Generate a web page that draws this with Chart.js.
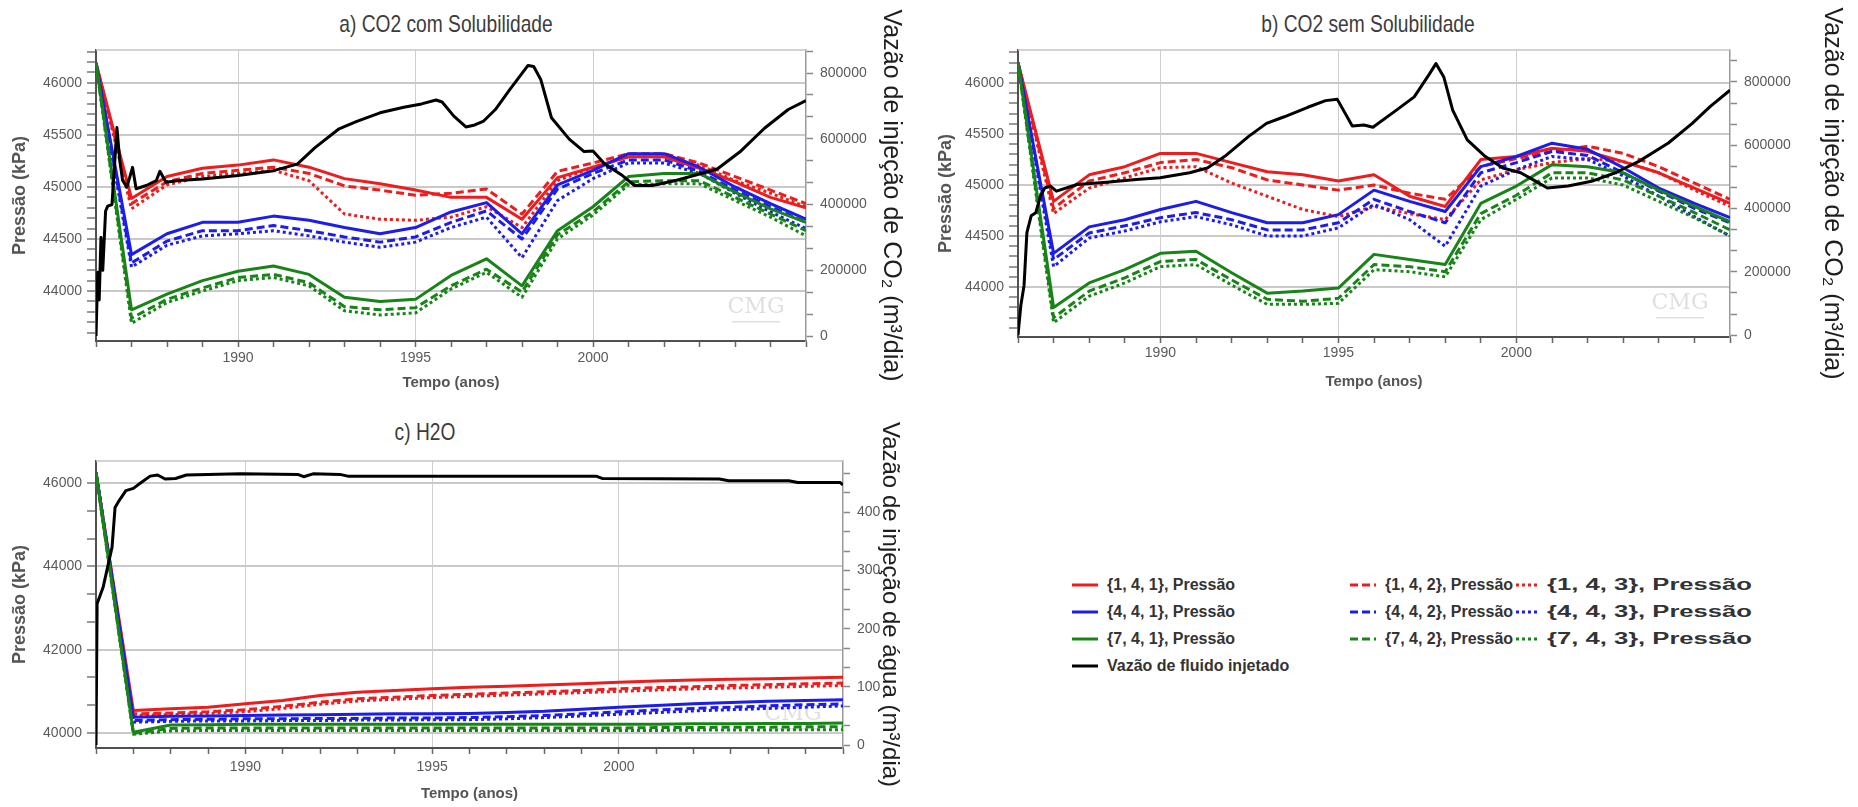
<!DOCTYPE html>
<html lang="pt">
<head>
<meta charset="utf-8">
<title>Pressão e vazão de injeção</title>
<script src="https://cdn.jsdelivr.net/npm/chart.js@4.4.1/dist/chart.umd.min.js"></script>
<style>
  html, body { margin: 0; padding: 0; background: #fff; }
  body { position: relative; width: 1858px; height: 807px; overflow: hidden;
         font-family: 'Liberation Sans', Arial, sans-serif; }
  canvas { position: absolute; }
  .panel-title { position: absolute; font-size: 24px; color: #3c3c3c; white-space: nowrap;
                 transform: translate(-50%, -50%) scaleX(0.8); line-height: 1; }
  .leg { position: absolute; display: flex; align-items: center; font-weight: bold; font-size: 16px;
         color: #333; white-space: nowrap; transform: translateY(-50%); line-height: 1; }
  .leg svg { margin-right: 9px; flex: none; }
  .leg .wide { display: inline-block; transform: scaleX(1.6); transform-origin: left center; }
</style>
</head>
<body>
<div class="panel-title" style="left:446px; top:24px;">a) CO2 com Solubilidade</div>
<div class="panel-title" style="left:1368px; top:24px;">b) CO2 sem Solubilidade</div>
<div class="panel-title" style="left:425px; top:432px;">c) H2O</div>
<canvas id="chartA" width="925" height="400" style="left:0; top:0;"></canvas>
<canvas id="chartB" width="928" height="400" style="left:930px; top:0;"></canvas>
<canvas id="chartC" width="925" height="407" style="left:0; top:400px;"></canvas>
<div id="legend"></div>
<script>
// ---- time axis (yearly pressure reports) ----
const years = [1986, 1987, 1988, 1989, 1990, 1991, 1992, 1993, 1994, 1995, 1996,
               1997, 1998, 1999, 2000, 2001, 2002, 2003, 2004, 2005, 2006];
const labelYears = [1990, 1995, 2000];

// ---- tick labels ----
const pressTicksCO2 = [44000, 44500, 45000, 45500, 46000];
const rateTicksCO2 = [0, 200000, 400000, 600000, 800000];
const pressTicksH2O = [40000, 42000, 44000, 46000];
const rateTicksH2O = [0, 100, 200, 300, 400];

// ---- series names ----
const seriesNames = ['{1, 4, 1}, Pressão', '{1, 4, 2}, Pressão', '{1, 4, 3}, Pressão',
                     '{4, 4, 1}, Pressão', '{4, 4, 2}, Pressão', '{4, 4, 3}, Pressão',
                     '{7, 4, 1}, Pressão', '{7, 4, 2}, Pressão', '{7, 4, 3}, Pressão'];
const injName = 'Vazão de fluido injetado';

// ---- a) CO2 com solubilidade: pressure (kPa) ----
const a141 = [46190, 44890, 45100, 45180, 45210, 45260, 45190, 45080, 45030, 44970, 44900, 44900, 44690, 45090, 45190, 45290, 45290, 45180, 45050, 44900, 44800];
const a142 = [46190, 44840, 45050, 45130, 45160, 45190, 45130, 45010, 44970, 44920, 44940, 44980, 44740, 45150, 45230, 45320, 45320, 45230, 45100, 44970, 44840];
const a143 = [46190, 44790, 45020, 45100, 45130, 45160, 45060, 44740, 44690, 44680, 44710, 44810, 44610, 45060, 45190, 45290, 45290, 45210, 45060, 44940, 44810];
const a441 = [46190, 44350, 44550, 44660, 44660, 44720, 44680, 44610, 44550, 44610, 44760, 44850, 44550, 45020, 45160, 45320, 45320, 45190, 45000, 44840, 44690];
const a442 = [46190, 44270, 44480, 44580, 44580, 44630, 44580, 44520, 44470, 44520, 44660, 44770, 44500, 44980, 45130, 45260, 45260, 45150, 44970, 44810, 44660];
const a443 = [46190, 44230, 44440, 44530, 44550, 44580, 44530, 44470, 44420, 44470, 44610, 44710, 44320, 44870, 45080, 45230, 45230, 45130, 44940, 44760, 44600];
const a741 = [46190, 43820, 43970, 44100, 44190, 44240, 44160, 43940, 43900, 43920, 44150, 44310, 44050, 44580, 44810, 45100, 45130, 45130, 44950, 44790, 44660];
const a742 = [46190, 43740, 43920, 44030, 44130, 44160, 44080, 43850, 43820, 43840, 44050, 44210, 43990, 44540, 44760, 45050, 45060, 45060, 44900, 44740, 44580];
const a743 = [46190, 43690, 43890, 44000, 44100, 44130, 44050, 43810, 43770, 43790, 44020, 44180, 43940, 44500, 44730, 45020, 45030, 45030, 44870, 44710, 44530];
// injected CO2 rate (m3/dia)
const tA = [1986.00, 1986.05, 1986.09, 1986.14, 1986.19, 1986.27, 1986.33, 1986.45, 1986.59, 1986.67, 1986.75, 1986.87, 1987.03, 1987.13,
            1987.42, 1987.70, 1987.80, 1987.97, 1988.33, 1989.00, 1990.00, 1991.00, 1991.67, 1992.17, 1992.83, 1993.33, 1994.00, 1994.67,
            1995.17, 1995.58, 1995.75, 1996.08, 1996.42, 1996.67, 1996.92, 1997.25, 1997.67, 1998.17, 1998.33, 1998.53, 1998.83, 1999.33,
            1999.75, 2000.00, 2000.33, 2000.83, 2001.17, 2001.67, 2002.33, 2003.00, 2003.50, 2004.17, 2004.83, 2005.50, 2006.00];
const qA = [0, 194000, 110000, 300000, 200000, 380000, 395000, 400000, 634000, 533000, 473000, 453000, 513000, 448000,
            458000, 473000, 501000, 468000, 473000, 478000, 488000, 503000, 523000, 573000, 629000, 652000, 679000, 696000,
            706000, 718000, 712000, 669000, 636000, 642000, 654000, 689000, 752000, 823000, 820000, 780000, 664000, 599000,
            561000, 563000, 523000, 488000, 458000, 458000, 473000, 493000, 508000, 563000, 632000, 689000, 716000];

// ---- b) CO2 sem solubilidade: pressure (kPa) ----
const b141 = [46200, 44840, 45100, 45180, 45310, 45310, 45220, 45130, 45100, 45040, 45100, 44890, 44790, 45250, 45280, 45360, 45330, 45230, 45120, 44970, 44820];
const b142 = [46200, 44770, 45040, 45120, 45220, 45250, 45170, 45050, 45000, 44950, 45000, 44920, 44860, 45180, 45260, 45330, 45380, 45310, 45180, 45020, 44860];
const b143 = [46200, 44720, 44970, 45070, 45170, 45180, 45020, 44890, 44760, 44690, 44790, 44720, 44660, 45050, 45150, 45220, 45260, 45230, 45120, 44950, 44790];
const b441 = [46200, 44330, 44590, 44660, 44760, 44840, 44730, 44630, 44630, 44710, 44950, 44840, 44740, 45180, 45280, 45410, 45350, 45170, 44970, 44820, 44680];
const b442 = [46200, 44270, 44530, 44600, 44680, 44730, 44660, 44560, 44560, 44630, 44860, 44740, 44630, 45120, 45220, 45330, 45290, 45120, 44940, 44770, 44630];
const b443 = [46200, 44200, 44480, 44550, 44640, 44690, 44610, 44500, 44500, 44580, 44810, 44660, 44400, 44990, 45150, 45280, 45250, 45090, 44890, 44690, 44500];
const b741 = [46200, 43800, 44040, 44170, 44330, 44350, 44140, 43940, 43960, 43990, 44320, 44270, 44220, 44820, 44990, 45200, 45180, 45120, 44950, 44790, 44640];
const b742 = [46200, 43700, 43960, 44090, 44250, 44270, 44070, 43880, 43860, 43890, 44220, 44200, 44150, 44720, 44900, 45120, 45120, 45050, 44890, 44730, 44560];
const b743 = [46200, 43650, 43910, 44040, 44200, 44220, 44020, 43830, 43830, 43840, 44170, 44150, 44100, 44660, 44860, 45070, 45070, 45000, 44840, 44680, 44500];
const tB = [1986.00, 1986.08, 1986.17, 1986.25, 1986.37, 1986.50, 1986.63, 1986.75, 1986.91, 1987.08, 1987.66, 1988.49, 1989.32, 1989.99,
            1990.82, 1991.32, 1991.81, 1992.48, 1992.98, 1993.48, 1994.14, 1994.64, 1994.97, 1995.39, 1995.72, 1995.97, 1996.63, 1997.13,
            1997.55, 1997.74, 1997.96, 1998.21, 1998.62, 1999.12, 1999.62, 2000.12, 2000.45, 2000.87, 2001.45, 2002.11, 2002.78, 2003.44,
            2004.27, 2004.94, 2005.44, 2006.00];
const qB = [0, 94000, 157000, 324000, 377000, 387000, 439000, 465000, 471000, 455000, 476000, 483000, 492000, 497000,
            513000, 528000, 565000, 628000, 669000, 690000, 720000, 741000, 745000, 661000, 664000, 657000, 711000, 753000,
            824000, 858000, 816000, 711000, 617000, 565000, 528000, 513000, 492000, 465000, 471000, 486000, 513000, 549000,
            607000, 669000, 722000, 774000];

// ---- c) H2O: pressure (kPa) ----
const c141 = [46250, 40540, 40580, 40620, 40700, 40780, 40900, 40980, 41020, 41060, 41100, 41120, 41150, 41180, 41220, 41250, 41270, 41290, 41300, 41320, 41340];
const c142 = [46250, 40460, 40480, 40510, 40560, 40640, 40740, 40820, 40860, 40900, 40930, 40960, 40990, 41020, 41060, 41090, 41110, 41140, 41160, 41180, 41200];
const c143 = [46250, 40420, 40440, 40470, 40510, 40590, 40690, 40770, 40810, 40850, 40880, 40910, 40940, 40970, 41000, 41030, 41060, 41080, 41100, 41120, 41140];
const c441 = [46250, 40380, 40400, 40410, 40420, 40430, 40440, 40450, 40460, 40460, 40470, 40490, 40520, 40570, 40620, 40660, 40700, 40730, 40760, 40780, 40800];
const c442 = [46250, 40300, 40320, 40330, 40340, 40340, 40350, 40350, 40360, 40360, 40370, 40390, 40420, 40460, 40510, 40550, 40590, 40620, 40650, 40680, 40700];
const c443 = [46250, 40260, 40280, 40290, 40290, 40300, 40300, 40310, 40310, 40320, 40320, 40340, 40370, 40410, 40450, 40490, 40530, 40560, 40590, 40620, 40650];
const c741 = [46250, 40020, 40190, 40200, 40210, 40210, 40210, 40210, 40210, 40210, 40210, 40210, 40210, 40210, 40210, 40210, 40220, 40220, 40230, 40230, 40240];
const c742 = [46250, 39990, 40110, 40120, 40120, 40120, 40120, 40120, 40120, 40120, 40120, 40120, 40120, 40120, 40120, 40130, 40130, 40140, 40140, 40150, 40150];
const c743 = [46250, 39970, 40050, 40060, 40060, 40060, 40060, 40060, 40060, 40060, 40060, 40060, 40060, 40060, 40060, 40060, 40070, 40070, 40070, 40080, 40080];
// injected water rate (m3/dia)
const tC = [1986.00, 1986.03, 1986.19, 1986.43, 1986.51, 1986.62, 1986.80, 1987.00, 1987.21, 1987.45, 1987.65, 1987.85, 1988.13, 1988.42,
            1989.87, 1991.40, 1991.56, 1991.81, 1992.53, 1992.74, 1999.39, 1999.55, 2002.69, 2002.94, 2004.55, 2004.79, 2005.92, 2006.00];
const qC = [0, 243, 271, 340, 408, 420, 437, 441, 451, 462, 464, 457, 458, 464,
            466, 465, 461, 466, 465, 462, 462, 458, 457, 454, 454, 451, 451, 447];

// ---- styling ----
const RED = '#ee1c1c', BLUE = '#1c1ceb', GREEN = '#188418', BLACK = '#000000';
const DASHED = [8, 4], DOTTED = [3, 3];
const lineStyles = [
  { color: RED, dash: [] }, { color: RED, dash: DASHED }, { color: RED, dash: DOTTED },
  { color: BLUE, dash: [] }, { color: BLUE, dash: DASHED }, { color: BLUE, dash: DOTTED },
  { color: GREEN, dash: [] }, { color: GREEN, dash: DASHED }, { color: GREEN, dash: DOTTED }
];

Chart.defaults.font.family = "'Liberation Sans', Arial, sans-serif";

// major ticks carry a label; minor ticks only draw a small mark
function buildTicks(min, max, majors, parts) {
  const big = majors[1] - majors[0], step = big / parts, out = [];
  const j0 = Math.ceil((min - majors[0]) / step - 1e-9);
  const j1 = Math.floor((max - majors[0]) / step + 1e-9);
  for (let j = j0; j <= j1; j++) {
    const onMajor = ((j % parts) + parts) % parts === 0;
    const v = onMajor ? majors[0] + (j / parts) * big : majors[0] + j * step;
    out.push({ value: v, isMajor: onMajor && majors.includes(v) });
  }
  return out;
}
const majorLabel = (value, index, ticks) => (ticks[index].isMajor ? String(value) : '');

// top frame line and the simulator mark in the plot corner
const framePlugin = {
  id: 'frame',
  beforeDatasetsDraw(chart) {
    const { ctx, chartArea: a } = chart;
    ctx.save();
    ctx.strokeStyle = '#c4c4c4';
    ctx.lineWidth = 1.5;
    ctx.beginPath();
    ctx.moveTo(a.left, a.top);
    ctx.lineTo(a.right, a.top);
    ctx.stroke();
    ctx.fillStyle = 'rgba(0,0,0,0.13)';
    ctx.font = '22px "DejaVu Serif"';
    ctx.textAlign = 'center';
    ctx.textBaseline = 'middle';
    ctx.fillText('CMG', a.right - 50, a.bottom - 34);
    ctx.fillRect(a.right - 74, a.bottom - 20, 48, 1.5);
    ctx.restore();
  }
};

// green is painted over blue, blue over red; solid over dashed over dotted
function pressureSets(list) {
  return list.map((vals, i) => ({
    label: seriesNames[i],
    data: years.map((x, k) => ({ x, y: vals[k] })),
    yAxisID: 'y',
    borderColor: lineStyles[i].color,
    borderDash: lineStyles[i].dash,
    borderWidth: 3,
    pointRadius: 0,
    fill: false,
    order: 1 + (2 - Math.floor(i / 3)) * 3 + (i % 3)
  }));
}
function injectionSet(t, q) {
  return {
    label: injName,
    data: t.map((x, k) => ({ x, y: q[k] })),
    yAxisID: 'y2',
    borderColor: BLACK,
    borderWidth: 3,
    pointRadius: 0,
    fill: false,
    order: 0
  };
}

function makePanel(id, o) {
  return new Chart(document.getElementById(id), {
    type: 'line',
    data: { datasets: [injectionSet(o.t, o.q), ...pressureSets(o.press)] },
    options: {
      responsive: false,
      animation: false,
      devicePixelRatio: 1,
      layout: { padding: { top: o.top, left: 0, right: 0, bottom: 0 } },
      plugins: { legend: { display: false }, tooltip: { enabled: false }, title: { display: false } },
      elements: { line: { tension: 0, borderCapStyle: 'butt', borderJoinStyle: 'round' }, point: { radius: 0 } },
      scales: {
        x: {
          type: 'linear', position: 'bottom', min: 1986, max: 2006,
          afterBuildTicks: s => { s.ticks = buildTicks(1986, 2006, labelYears, 5); },
          afterFit: s => { s.height = o.xH; },
          ticks: { autoSkip: false, maxRotation: 0, callback: majorLabel, color: '#5a5a5a',
                   font: { size: 14 }, padding: o.xTickPad },
          grid: { color: c => (c.tick && c.tick.isMajor ? '#cfcfcf' : 'rgba(0,0,0,0)'), lineWidth: 1,
                  tickColor: '#666', tickLength: 6, tickWidth: 1.5 },
          border: { color: '#505050', width: 2 },
          title: { display: true, text: 'Tempo (anos)', color: '#555', font: { size: 15, weight: 'bold' },
                   padding: { top: 0, bottom: o.xTitlePad } }
        },
        y: {
          type: 'linear', position: 'left', min: o.yMin, max: o.yMax,
          afterBuildTicks: s => { s.ticks = buildTicks(o.yMin, o.yMax, o.yTicks, o.yParts); },
          afterFit: s => { s.width = o.leftW; },
          ticks: { autoSkip: false, callback: majorLabel, color: '#5a5a5a', font: { size: 14 }, padding: 5 },
          grid: { color: c => (c.tick && c.tick.isMajor ? '#c9c9c9' : 'rgba(0,0,0,0)'), lineWidth: 2,
                  tickColor: '#777', tickLength: 9, tickWidth: 1.5 },
          border: { color: '#505050', width: 2 },
          title: { display: true, text: 'Pressão (kPa)', color: '#555', font: { size: 18, weight: 'bold' },
                   padding: { top: o.lTitlePad, bottom: 0 } }
        },
        y2: {
          type: 'linear', position: 'right', min: o.y2Min, max: o.y2Max,
          afterBuildTicks: s => { s.ticks = buildTicks(o.y2Min, o.y2Max, o.y2Ticks, 3); },
          afterFit: s => { s.width = o.rightW; },
          ticks: { autoSkip: false, callback: majorLabel, color: '#5a5a5a', font: { size: 14 }, padding: 7 },
          grid: { drawOnChartArea: false, tickColor: '#888', tickLength: 7, tickWidth: 1.5 },
          border: { color: '#9a9a9a', width: 1.5 },
          title: { display: true, text: o.rateTitle, color: '#1e1e1e', font: { size: o.rateFont },
                   padding: { top: o.rTitlePad, bottom: 0 } }
        }
      }
    },
    plugins: [framePlugin]
  });
}

makePanel('chartA', {
  press: [a141, a142, a143, a441, a442, a443, a741, a742, a743], t: tA, q: qA,
  top: 50, leftW: 96, rightW: 119, xH: 59, xTickPad: 3, xTitlePad: 8, lTitlePad: 9, rTitlePad: 19,
  yMin: 43520, yMax: 46316, yTicks: pressTicksCO2, yParts: 5,
  y2Min: -15000, y2Max: 870000, y2Ticks: rateTicksCO2,
  rateTitle: 'Vazão de injeção de CO₂ (m³/dia)', rateFont: 25
});
makePanel('chartB', {
  press: [b141, b142, b143, b441, b442, b443, b741, b742, b743], t: tB, q: qB,
  top: 50, leftW: 88, rightW: 128, xH: 63, xTickPad: 2, xTitlePad: 9, lTitlePad: 5, rTitlePad: 11,
  yMin: 43510, yMax: 46324, yTicks: pressTicksCO2, yParts: 5,
  y2Min: -6000, y2Max: 901000, y2Ticks: rateTicksCO2,
  rateTitle: 'Vazão de injeção de CO₂ (m³/dia)', rateFont: 25
});
makePanel('chartC', {
  press: [c141, c142, c143, c441, c442, c443, c741, c742, c743], t: tC, q: qC,
  top: 61, leftW: 96, rightW: 82, xH: 59, xTickPad: 5, xTitlePad: 4, lTitlePad: 9, rTitlePad: 21,
  yMin: 39640, yMax: 46530, yTicks: pressTicksH2O, yParts: 3,
  y2Min: -5, y2Max: 488, y2Ticks: rateTicksH2O,
  rateTitle: 'Vazão de injeção de água (m³/dia)', rateFont: 24
});

// ---- shared legend ----
const legendCols = [1072, 1350, 1516];
const legendRows = [585, 612, 639, 666];
const swatchW = [26, 26, 22];
function swatch(color, dash, w) {
  const da = dash.length ? ` stroke-dasharray="${dash.join(',')}"` : '';
  return `<svg width="${w}" height="6"><line x1="0" y1="3" x2="${w}" y2="3" stroke="${color}" stroke-width="3"${da}/></svg>`;
}
const legendEl = document.getElementById('legend');
let html = '';
seriesNames.forEach((name, i) => {
  const row = Math.floor(i / 3), col = i % 3, st = lineStyles[i];
  const cls = col === 2 ? ' class="wide"' : '';
  html += `<div class="leg" style="left:${legendCols[col]}px; top:${legendRows[row]}px;">` +
          swatch(st.color, st.dash, swatchW[col]) + `<span${cls}>${name}</span></div>`;
});
html += `<div class="leg" style="left:${legendCols[0]}px; top:${legendRows[3]}px;">` +
        swatch(BLACK, [], swatchW[0]) + `<span>${injName}</span></div>`;
legendEl.innerHTML = html;
</script>
</body>
</html>
